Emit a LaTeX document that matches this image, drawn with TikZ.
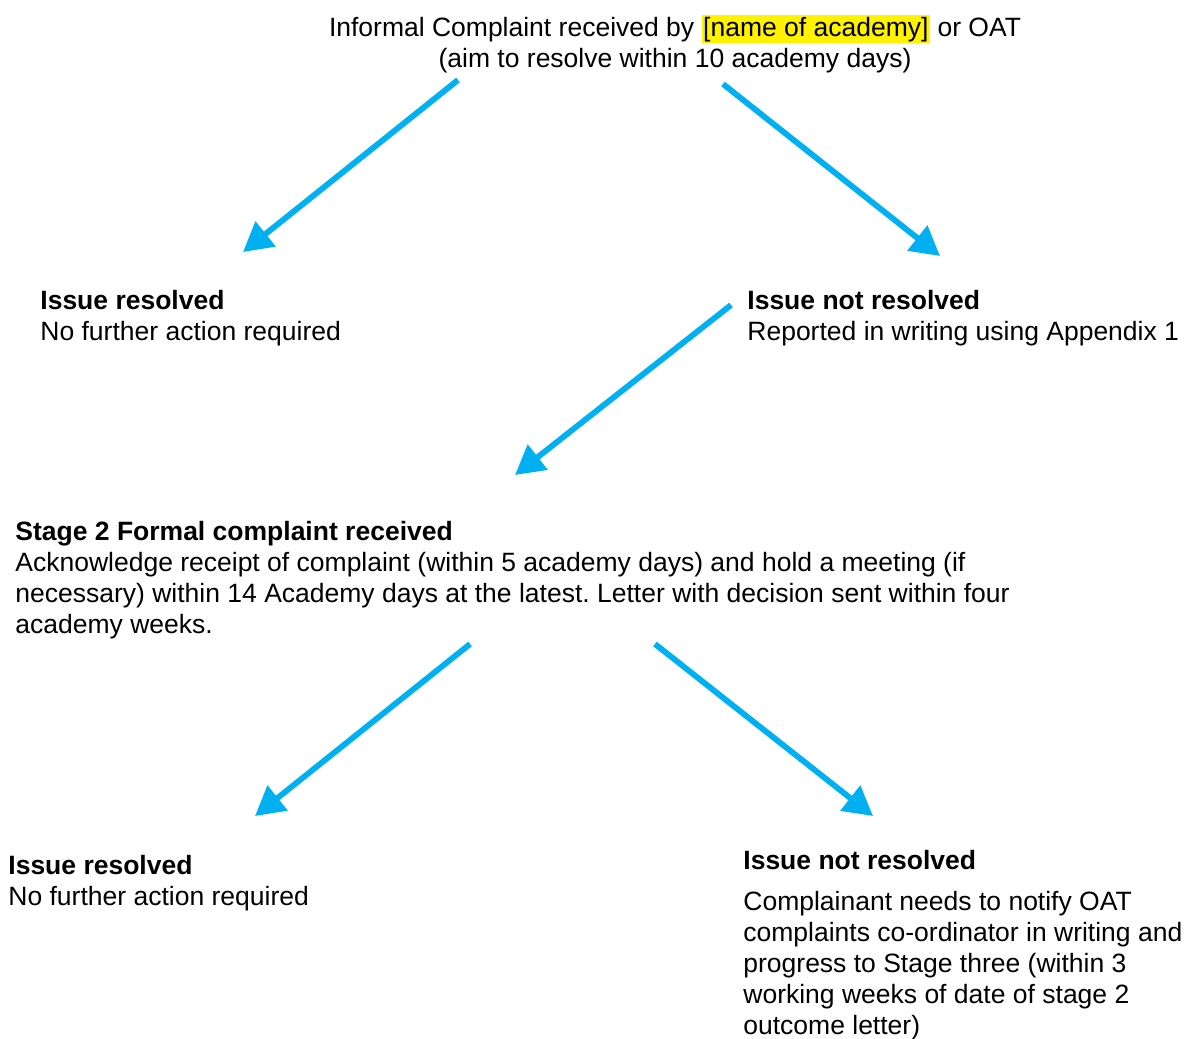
\documentclass[tikz,border=0pt]{standalone}
\usepackage{fontspec}
\setmainfont{Liberation Sans}
\usetikzlibrary{arrows.meta}
\definecolor{arrowblue}{HTML}{00B0F0}
\newcommand{\markacademy}[1]{{\setlength{\fboxsep}{0.8pt}\colorbox{yellow}{#1}}}
\frenchspacing

\begin{document}
\begin{tikzpicture}[x=0.5pt,y=-0.5pt]
\tikzstyle{every node}+=[inner sep=0pt,font=\fontsize{13.25}{15.5}\selectfont]
\tikzstyle{flow}=[arrowblue,line width=2.9pt,-{Triangle[length=14.5pt,width=15.5pt]}]
\useasboundingbox (0,0) rectangle (1192,1038);
\node (informal) [anchor=north,align=center] at (675,15)
  {Informal Complaint received by \markacademy{[name of academy]} or OAT\\
   (aim to resolve within 10 academy days)};
\node (resolved1) [anchor=north west,align=left] at (40,290)
  {\textbf{Issue resolved}\\No further action required};
\node (notresolved1) [anchor=north west,align=left] at (747,290)
  {\textbf{Issue not resolved}\\Reported in writing using Appendix 1};
\node (stage2) [anchor=north west,align=left] at (15,521)
  {\textbf{Stage 2 Formal complaint received}\\
   Acknowledge receipt of complaint (within 5 academy days) and hold a meeting (if\\
   necessary) within 14 Academy days at the latest. Letter with decision sent within four\\
   academy weeks.};
\node (resolved2) [anchor=north west,align=left] at (8,855)
  {\textbf{Issue resolved}\\No further action required};
\node (notresolved2) [anchor=north west,align=left] at (743,850)
  {\textbf{Issue not resolved}\\[5pt]
   Complainant needs to notify OAT\\
   complaints co-ordinator in writing and\\
   progress to Stage three (within 3\\
   working weeks of date of stage 2\\
   outcome letter)};
% arrow ends
\coordinate (informal-l) at (458,80);
\coordinate (informal-r) at (723,84);
\coordinate (resolved1-in) at (243,252);
\coordinate (notresolved1-in) at (940,256);
\coordinate (notresolved1-out) at (731,305);
\coordinate (stage2-in) at (515,475);
\coordinate (stage2-l) at (470,644);
\coordinate (stage2-r) at (655,644);
\coordinate (resolved2-in) at (255,816);
\coordinate (notresolved2-in) at (873,816);
\draw [flow] (informal-l) -- (resolved1-in);
\draw [flow] (informal-r) -- (notresolved1-in);
\draw [flow] (notresolved1-out) -- (stage2-in);
\draw [flow] (stage2-l) -- (resolved2-in);
\draw [flow] (stage2-r) -- (notresolved2-in);
\end{tikzpicture}
\end{document}
